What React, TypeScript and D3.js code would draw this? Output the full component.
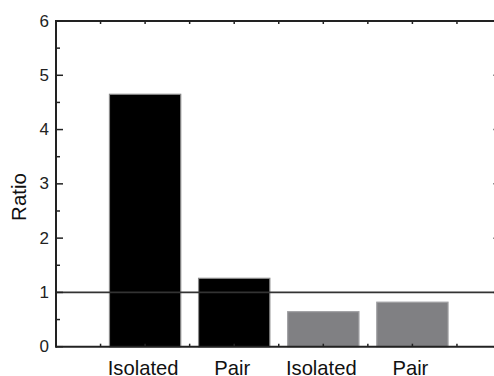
import React from "react";
import * as d3 from "d3";

const categories = ["Isolated", "Pair", "Isolated", "Pair"];
const ratios = [4.65, 1.26, 0.645, 0.82];
const groups = ["dark", "dark", "grey", "grey"];
const yTicks = [0, 1, 2, 3, 4, 5, 6];
const referenceLevel = 1;

const W = 494;
const H = 376;

export default function App() {
  const x = d3.scaleLinear().domain([0, 5]).range([56, 501.5]);
  const y = d3.scaleLinear().domain([0, 6]).range([346.7, 21]);
  const barW = x(0.8) - x(0);
  const halfTicks = d3.range(0, 5.01, 0.5);
  const yMinor = d3.range(0.5, 6, 1);
  const font = "'Liberation Sans', Arial, sans-serif";
  const axisColor = "#222";

  return (
    <svg
      width={W}
      height={H}
      style={{ position: "fixed", left: 0, top: 0, background: "#fff" }}
      fontFamily={font}
    >
      <rect width={W} height={H} fill="#fff" />
      {ratios.map((v, i) => (
        <rect
          key={i}
          x={x(i + 1) - barW / 2}
          y={y(v)}
          width={barW}
          height={y(0) - y(v)}
          fill={groups[i] === "dark" ? "#000" : "#808083"}
          stroke={groups[i] === "dark" ? "#8a8a8a" : "#a0a0a3"}
          strokeWidth={1.2}
        />
      ))}
      {/* reference line at ratio = 1 */}
      <line
        x1={x(0)}
        x2={x(5)}
        y1={y(referenceLevel)}
        y2={y(referenceLevel)}
        stroke="#333"
        strokeWidth={1.6}
      />
      {/* frame */}
      <line x1={x(0)} x2={x(5)} y1={y(0)} y2={y(0)} stroke={axisColor} strokeWidth={2} />
      <line x1={x(0)} x2={x(5)} y1={y(6)} y2={y(6)} stroke={axisColor} strokeWidth={2} />
      <line x1={x(0)} x2={x(0)} y1={y(0) + 1} y2={y(6) - 1} stroke={axisColor} strokeWidth={2} />
      <line x1={x(5)} x2={x(5)} y1={y(0) + 1} y2={y(6) - 1} stroke={axisColor} strokeWidth={2} />
      {/* y ticks (inward) */}
      {yTicks.map((t) => (
        <g key={"yt" + t}>
          <line x1={x(0)} x2={x(0) + 7} y1={y(t)} y2={y(t)} stroke={axisColor} strokeWidth={1.5} />
          <line x1={x(5)} x2={x(5) - 8} y1={y(t)} y2={y(t)} stroke={axisColor} strokeWidth={1.5} />
          <text
            x={49}
            y={y(t)}
            textAnchor="end"
            dominantBaseline="central"
            fontSize={17}
            fill="#222"
          >
            {t}
          </text>
        </g>
      ))}
      {yMinor.map((t) => (
        <g key={"ym" + t}>
          <line x1={x(0)} x2={x(0) + 4} y1={y(t)} y2={y(t)} stroke={axisColor} strokeWidth={1.5} />
          <line x1={x(5)} x2={x(5) - 4} y1={y(t)} y2={y(t)} stroke={axisColor} strokeWidth={1.5} />
        </g>
      ))}
      {/* x ticks (inward, short) */}
      {halfTicks.map((t) => (
        <g key={"xt" + t}>
          <line x1={x(t)} x2={x(t)} y1={y(0)} y2={y(0) - 3} stroke={axisColor} strokeWidth={1.5} />
          <line x1={x(t)} x2={x(t)} y1={y(6)} y2={y(6) + 3} stroke={axisColor} strokeWidth={1.5} />
        </g>
      ))}
      {categories.map((c, i) => (
        <text
          key={"c" + i}
          x={x(i + 1) - 2}
          y={375}
          textAnchor="middle"
          fontSize={20.2}
          fill="#111"
        >
          {c}
        </text>
      ))}
      <text
        transform={`translate(25.5, 197) rotate(-90)`}
        textAnchor="middle"
        fontSize={20.5}
        fill="#111"
      >
        Ratio
      </text>
    </svg>
  );
}
